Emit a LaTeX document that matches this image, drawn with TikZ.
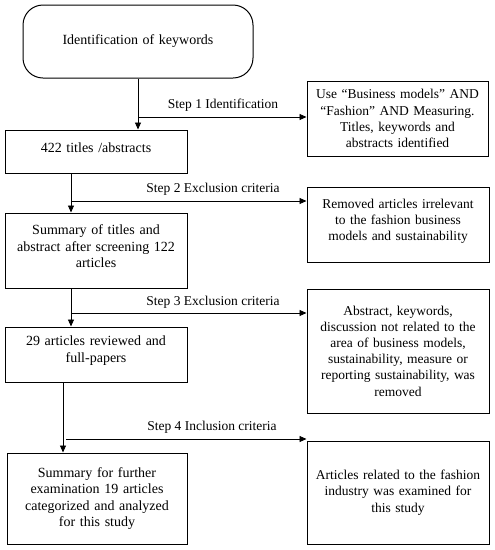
\documentclass[tikz,border=0pt]{standalone}
\usepackage{fontspec}
\setmainfont{Liberation Serif}
\usetikzlibrary{arrows.meta}
\begin{document}
\begin{tikzpicture}[x=1pt,y=-1pt,
  box/.style={draw,line width=1pt,minimum width=182pt,align=center,text width=180pt,inner sep=0pt,font=\fontsize{13.5}{16.2}\selectfont},
  lbox/.style={box,font=\fontsize{14}{16.5}\selectfont},
  arr/.style={line width=0.9pt,-{Triangle[length=7pt,width=6pt]}},
  steplbl/.style={font=\fontsize{13.5}{16}\selectfont,inner sep=0pt}]
\useasboundingbox (0,0) rectangle (495,550);
\node[lbox,rounded corners=20pt,minimum width=230pt,minimum height=73pt] (kw) at (138,41.5) {Identification of keywords};
\node[box,minimum width=181pt,minimum height=75pt] (r1) at (397.5,118.5) {Use “Business models” AND\\“Fashion” AND Measuring.\\Titles, keywords and\\abstracts identified};
\node[lbox,minimum height=43pt,text depth=8pt] (t422) at (96,151.5) {422 titles /abstracts};
\node[box,minimum height=75pt,text depth=42pt] (r2) at (398,224.5) {Removed articles irrelevant\\to the fashion business\\models and sustainability};
\node[lbox,minimum height=75pt,text depth=41pt] (s1) at (96,250.5) {Summary of titles and\\abstract after screening 122\\articles};
\node[box,minimum height=124pt] (r3) at (398,351) {Abstract, keywords,\\discussion not related to the\\area of business models,\\sustainability, measure or\\reporting sustainability, was\\removed};
\node[lbox,minimum height=55pt,text depth=27pt] (a29) at (96,354.5) {29 articles reviewed and\\full-papers};
\node[box,minimum height=103pt] (r4) at (398,492.5) {Articles related to the fashion\\industry was examined for\\this study};
\node[lbox,minimum width=180pt,minimum height=91pt] (s2) at (97,498.5) {Summary for further\\examination 19 articles\\categorized and analyzed\\for this study};
% step 1
\draw[arr] (kw.south) -- (kw.south |- t422.north);
\coordinate (b1) at (138,117);
\draw[arr] (b1) -- (b1 -| r1.west);
\node[steplbl] (l1) at (223,105) {Step 1 Identification};
% step 2
\coordinate (v2) at (71,173);
\draw[arr] (v2) -- (v2 |- s1.north);
\coordinate (b2) at (71,201);
\draw[arr] (b2) -- (b2 -| r2.west);
\node[steplbl] (l2) at (213,189) {Step 2 Exclusion criteria};
% step 3
\coordinate (v3) at (71,288);
\draw[arr] (v3) -- (v3 |- a29.north);
\coordinate (b3) at (71,313);
\draw[arr] (b3) -- (b3 -| r3.west);
\node[steplbl] (l3) at (213,302) {Step 3 Exclusion criteria};
% step 4
\coordinate (v4) at (63,382);
\draw[arr] (v4) -- (v4 |- s2.north);
\coordinate (b4) at (66,439);
\draw[arr] (b4) -- (b4 -| r4.west);
\node[steplbl] (l4) at (212,427) {Step 4 Inclusion criteria};
\end{tikzpicture}
\end{document}
